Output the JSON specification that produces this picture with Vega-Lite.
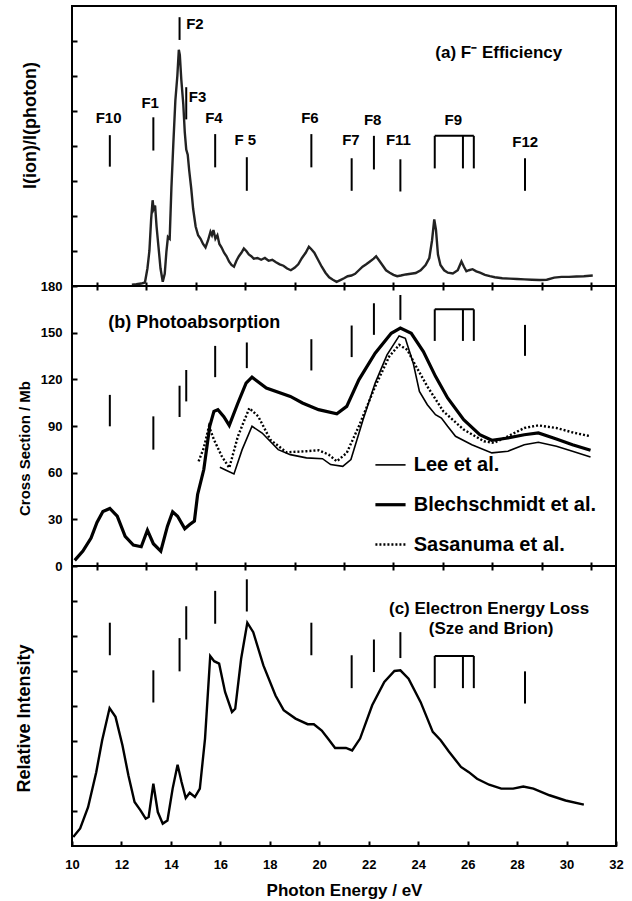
{
  "$schema": "https://vega.github.io/schema/vega-lite/v6.json",
  "padding": {"left": 14, "top": 5, "right": 0, "bottom": 0},
  "spacing": 0,
  "bounds": "flush",
  "config": {
    "font": "Liberation Sans",
    "view": {"stroke": "#000", "strokeWidth": 2},
    "axis": {
      "domain": false,
      "grid": false,
      "ticks": true,
      "tickWidth": 2,
      "tickColor": "#000",
      "labelFont": "Liberation Sans",
      "labelFontWeight": "bold",
      "labelFontSize": 13,
      "labelColor": "#000",
      "labelFlush": false,
      "labelOverlap": false,
      "titleFont": "Liberation Sans",
      "titleFontWeight": "bold",
      "titleFontSize": 17,
      "titleColor": "#000"
    },
    "text": {"font": "Liberation Sans", "fontWeight": "bold", "color": "#000"}
  },
  "datasets": {
    "ionYield": [
      {"E": 12.42, "v": 0.04}, {"E": 12.6, "v": 0.05}, {"E": 12.8, "v": 0.07}, {"E": 12.95, "v": 0.1},
      {"E": 13.05, "v": 0.5}, {"E": 13.13, "v": 1.0}, {"E": 13.2, "v": 1.9}, {"E": 13.26, "v": 2.45},
      {"E": 13.3, "v": 2.2}, {"E": 13.36, "v": 2.3}, {"E": 13.42, "v": 1.7}, {"E": 13.5, "v": 1.1},
      {"E": 13.58, "v": 0.5}, {"E": 13.67, "v": 0.12}, {"E": 13.75, "v": 0.35}, {"E": 13.82, "v": 1.0},
      {"E": 13.88, "v": 1.4}, {"E": 13.95, "v": 1.35}, {"E": 14.02, "v": 2.8}, {"E": 14.1, "v": 4.1},
      {"E": 14.18, "v": 5.3}, {"E": 14.26, "v": 6.0}, {"E": 14.32, "v": 6.75}, {"E": 14.36, "v": 6.6},
      {"E": 14.42, "v": 5.9}, {"E": 14.5, "v": 5.2}, {"E": 14.56, "v": 4.4}, {"E": 14.62, "v": 3.9},
      {"E": 14.68, "v": 3.75}, {"E": 14.74, "v": 3.3}, {"E": 14.82, "v": 2.8}, {"E": 14.9, "v": 2.2},
      {"E": 15.0, "v": 1.7}, {"E": 15.1, "v": 1.45}, {"E": 15.2, "v": 1.35}, {"E": 15.3, "v": 1.2},
      {"E": 15.4, "v": 1.1}, {"E": 15.5, "v": 1.3}, {"E": 15.6, "v": 1.55}, {"E": 15.66, "v": 1.45},
      {"E": 15.72, "v": 1.6}, {"E": 15.8, "v": 1.35}, {"E": 15.88, "v": 1.45}, {"E": 15.96, "v": 1.2},
      {"E": 16.05, "v": 1.1}, {"E": 16.15, "v": 0.95}, {"E": 16.25, "v": 0.85}, {"E": 16.35, "v": 0.7},
      {"E": 16.45, "v": 0.6}, {"E": 16.55, "v": 0.55}, {"E": 16.65, "v": 0.72}, {"E": 16.75, "v": 0.85},
      {"E": 16.85, "v": 0.95}, {"E": 16.95, "v": 1.07}, {"E": 17.05, "v": 1.0}, {"E": 17.15, "v": 0.9},
      {"E": 17.25, "v": 0.85}, {"E": 17.35, "v": 0.78}, {"E": 17.5, "v": 0.8}, {"E": 17.65, "v": 0.75},
      {"E": 17.8, "v": 0.8}, {"E": 17.95, "v": 0.72}, {"E": 18.1, "v": 0.75}, {"E": 18.25, "v": 0.68},
      {"E": 18.4, "v": 0.62}, {"E": 18.55, "v": 0.58}, {"E": 18.7, "v": 0.5}, {"E": 18.85, "v": 0.45},
      {"E": 19.0, "v": 0.52}, {"E": 19.15, "v": 0.62}, {"E": 19.3, "v": 0.8}, {"E": 19.45, "v": 0.95},
      {"E": 19.58, "v": 1.12}, {"E": 19.68, "v": 1.05}, {"E": 19.8, "v": 0.95}, {"E": 19.95, "v": 0.75},
      {"E": 20.1, "v": 0.55}, {"E": 20.25, "v": 0.38}, {"E": 20.4, "v": 0.25}, {"E": 20.55, "v": 0.18},
      {"E": 20.7, "v": 0.12}, {"E": 20.85, "v": 0.17}, {"E": 21.0, "v": 0.22}, {"E": 21.15, "v": 0.28},
      {"E": 21.3, "v": 0.3}, {"E": 21.45, "v": 0.35}, {"E": 21.6, "v": 0.45}, {"E": 21.75, "v": 0.55},
      {"E": 21.9, "v": 0.62}, {"E": 22.05, "v": 0.7}, {"E": 22.2, "v": 0.78}, {"E": 22.3, "v": 0.85},
      {"E": 22.4, "v": 0.75}, {"E": 22.55, "v": 0.6}, {"E": 22.7, "v": 0.45}, {"E": 22.85, "v": 0.38},
      {"E": 23.0, "v": 0.32}, {"E": 23.15, "v": 0.28}, {"E": 23.3, "v": 0.3}, {"E": 23.5, "v": 0.33},
      {"E": 23.7, "v": 0.35}, {"E": 23.9, "v": 0.37}, {"E": 24.1, "v": 0.45}, {"E": 24.3, "v": 0.6},
      {"E": 24.45, "v": 0.8}, {"E": 24.56, "v": 1.3}, {"E": 24.65, "v": 1.9}, {"E": 24.72, "v": 1.6},
      {"E": 24.8, "v": 0.9}, {"E": 24.9, "v": 0.6}, {"E": 25.05, "v": 0.45}, {"E": 25.2, "v": 0.38},
      {"E": 25.4, "v": 0.36}, {"E": 25.6, "v": 0.45}, {"E": 25.75, "v": 0.7}, {"E": 25.85, "v": 0.55},
      {"E": 25.95, "v": 0.42}, {"E": 26.05, "v": 0.45}, {"E": 26.2, "v": 0.48}, {"E": 26.35, "v": 0.42},
      {"E": 26.5, "v": 0.38}, {"E": 26.7, "v": 0.32}, {"E": 26.9, "v": 0.28}, {"E": 27.1, "v": 0.25},
      {"E": 27.4, "v": 0.22}, {"E": 27.7, "v": 0.21}, {"E": 28.0, "v": 0.2}, {"E": 28.3, "v": 0.19},
      {"E": 28.6, "v": 0.18}, {"E": 28.9, "v": 0.17}, {"E": 29.2, "v": 0.18}, {"E": 29.5, "v": 0.24},
      {"E": 29.8, "v": 0.26}, {"E": 30.1, "v": 0.26}, {"E": 30.4, "v": 0.27}, {"E": 30.7, "v": 0.28},
      {"E": 31.06, "v": 0.3}
    ],
    "absorption": [
      {"source": "Blechschmidt et al.", "E": 10.11, "cs": 3.6},
      {"source": "Blechschmidt et al.", "E": 10.44, "cs": 9.6},
      {"source": "Blechschmidt et al.", "E": 10.77, "cs": 18},
      {"source": "Blechschmidt et al.", "E": 11.01, "cs": 28},
      {"source": "Blechschmidt et al.", "E": 11.25, "cs": 35},
      {"source": "Blechschmidt et al.", "E": 11.53, "cs": 37},
      {"source": "Blechschmidt et al.", "E": 11.83, "cs": 32},
      {"source": "Blechschmidt et al.", "E": 12.15, "cs": 19},
      {"source": "Blechschmidt et al.", "E": 12.48, "cs": 13.5},
      {"source": "Blechschmidt et al.", "E": 12.8, "cs": 12.4},
      {"source": "Blechschmidt et al.", "E": 13.05, "cs": 23},
      {"source": "Blechschmidt et al.", "E": 13.29, "cs": 14.3},
      {"source": "Blechschmidt et al.", "E": 13.59, "cs": 9.6},
      {"source": "Blechschmidt et al.", "E": 13.86, "cs": 25.6},
      {"source": "Blechschmidt et al.", "E": 14.07, "cs": 34.8},
      {"source": "Blechschmidt et al.", "E": 14.27, "cs": 32},
      {"source": "Blechschmidt et al.", "E": 14.56, "cs": 24},
      {"source": "Blechschmidt et al.", "E": 14.76, "cs": 26.7},
      {"source": "Blechschmidt et al.", "E": 14.95, "cs": 28.9},
      {"source": "Blechschmidt et al.", "E": 15.08, "cs": 46},
      {"source": "Blechschmidt et al.", "E": 15.33, "cs": 62},
      {"source": "Blechschmidt et al.", "E": 15.57, "cs": 89.8},
      {"source": "Blechschmidt et al.", "E": 15.74, "cs": 99.4},
      {"source": "Blechschmidt et al.", "E": 15.9, "cs": 100.5},
      {"source": "Blechschmidt et al.", "E": 16.14, "cs": 96},
      {"source": "Blechschmidt et al.", "E": 16.36, "cs": 90.4},
      {"source": "Blechschmidt et al.", "E": 16.71, "cs": 104.8},
      {"source": "Blechschmidt et al.", "E": 17.04, "cs": 117.6},
      {"source": "Blechschmidt et al.", "E": 17.28, "cs": 121.4},
      {"source": "Blechschmidt et al.", "E": 17.86, "cs": 114.4},
      {"source": "Blechschmidt et al.", "E": 18.83, "cs": 109},
      {"source": "Blechschmidt et al.", "E": 19.32, "cs": 104.8},
      {"source": "Blechschmidt et al.", "E": 19.97, "cs": 100.5},
      {"source": "Blechschmidt et al.", "E": 20.71, "cs": 97.9},
      {"source": "Blechschmidt et al.", "E": 21.11, "cs": 102.6},
      {"source": "Blechschmidt et al.", "E": 21.6, "cs": 119.7},
      {"source": "Blechschmidt et al.", "E": 22.26, "cs": 136.8},
      {"source": "Blechschmidt et al.", "E": 22.91, "cs": 149.6},
      {"source": "Blechschmidt et al.", "E": 23.28, "cs": 152.9},
      {"source": "Blechschmidt et al.", "E": 23.72, "cs": 149.6},
      {"source": "Blechschmidt et al.", "E": 24.21, "cs": 137.9},
      {"source": "Blechschmidt et al.", "E": 24.7, "cs": 121.9},
      {"source": "Blechschmidt et al.", "E": 25.19, "cs": 108},
      {"source": "Blechschmidt et al.", "E": 25.84, "cs": 94},
      {"source": "Blechschmidt et al.", "E": 26.49, "cs": 84.4},
      {"source": "Blechschmidt et al.", "E": 26.98, "cs": 80.8},
      {"source": "Blechschmidt et al.", "E": 27.63, "cs": 82.3},
      {"source": "Blechschmidt et al.", "E": 28.29, "cs": 84.4},
      {"source": "Blechschmidt et al.", "E": 28.86, "cs": 85.5},
      {"source": "Blechschmidt et al.", "E": 29.59, "cs": 81.7},
      {"source": "Blechschmidt et al.", "E": 30.24, "cs": 78},
      {"source": "Blechschmidt et al.", "E": 30.97, "cs": 74.4},
      {"source": "Lee et al.", "E": 15.98, "cs": 63.5},
      {"source": "Lee et al.", "E": 16.23, "cs": 61.6},
      {"source": "Lee et al.", "E": 16.55, "cs": 59.2},
      {"source": "Lee et al.", "E": 16.88, "cs": 74.8},
      {"source": "Lee et al.", "E": 17.28, "cs": 89.8},
      {"source": "Lee et al.", "E": 17.69, "cs": 85.5},
      {"source": "Lee et al.", "E": 18.34, "cs": 74.8},
      {"source": "Lee et al.", "E": 18.83, "cs": 71.6},
      {"source": "Lee et al.", "E": 19.48, "cs": 69.5},
      {"source": "Lee et al.", "E": 20.13, "cs": 69},
      {"source": "Lee et al.", "E": 20.46, "cs": 65.2},
      {"source": "Lee et al.", "E": 20.95, "cs": 64.1},
      {"source": "Lee et al.", "E": 21.28, "cs": 68.4},
      {"source": "Lee et al.", "E": 21.77, "cs": 94},
      {"source": "Lee et al.", "E": 22.26, "cs": 117.6},
      {"source": "Lee et al.", "E": 22.74, "cs": 135.7},
      {"source": "Lee et al.", "E": 23.23, "cs": 147.9},
      {"source": "Lee et al.", "E": 23.48, "cs": 146.4},
      {"source": "Lee et al.", "E": 23.8, "cs": 130.4},
      {"source": "Lee et al.", "E": 24.05, "cs": 112.2},
      {"source": "Lee et al.", "E": 24.37, "cs": 103.7},
      {"source": "Lee et al.", "E": 24.7, "cs": 97.3},
      {"source": "Lee et al.", "E": 24.94, "cs": 95.1},
      {"source": "Lee et al.", "E": 25.19, "cs": 89.8},
      {"source": "Lee et al.", "E": 25.51, "cs": 83.4},
      {"source": "Lee et al.", "E": 26.17, "cs": 78},
      {"source": "Lee et al.", "E": 26.98, "cs": 72.7},
      {"source": "Lee et al.", "E": 27.63, "cs": 73.8},
      {"source": "Lee et al.", "E": 28.29, "cs": 78},
      {"source": "Lee et al.", "E": 28.86, "cs": 79.5},
      {"source": "Lee et al.", "E": 29.59, "cs": 77},
      {"source": "Lee et al.", "E": 30.24, "cs": 73.8},
      {"source": "Lee et al.", "E": 30.97, "cs": 70.1},
      {"source": "Sasanuma et al.", "E": 15.12, "cs": 67.3},
      {"source": "Sasanuma et al.", "E": 15.33, "cs": 75.9},
      {"source": "Sasanuma et al.", "E": 15.54, "cs": 89.8},
      {"source": "Sasanuma et al.", "E": 15.74, "cs": 81.2},
      {"source": "Sasanuma et al.", "E": 16.06, "cs": 70.5},
      {"source": "Sasanuma et al.", "E": 16.36, "cs": 63.1},
      {"source": "Sasanuma et al.", "E": 16.71, "cs": 83.4},
      {"source": "Sasanuma et al.", "E": 17.17, "cs": 101.5},
      {"source": "Sasanuma et al.", "E": 17.53, "cs": 96.2},
      {"source": "Sasanuma et al.", "E": 18.02, "cs": 81.2},
      {"source": "Sasanuma et al.", "E": 18.67, "cs": 73.1},
      {"source": "Sasanuma et al.", "E": 19.48, "cs": 73.8},
      {"source": "Sasanuma et al.", "E": 19.97, "cs": 74.4},
      {"source": "Sasanuma et al.", "E": 20.38, "cs": 71.6},
      {"source": "Sasanuma et al.", "E": 20.71, "cs": 67.3},
      {"source": "Sasanuma et al.", "E": 21.11, "cs": 72.7},
      {"source": "Sasanuma et al.", "E": 21.6, "cs": 89.8},
      {"source": "Sasanuma et al.", "E": 22.26, "cs": 115.4},
      {"source": "Sasanuma et al.", "E": 22.83, "cs": 134.7},
      {"source": "Sasanuma et al.", "E": 23.23, "cs": 142.2},
      {"source": "Sasanuma et al.", "E": 23.56, "cs": 139},
      {"source": "Sasanuma et al.", "E": 23.88, "cs": 129.3},
      {"source": "Sasanuma et al.", "E": 24.37, "cs": 115.4},
      {"source": "Sasanuma et al.", "E": 25.02, "cs": 99.4},
      {"source": "Sasanuma et al.", "E": 25.84, "cs": 87.7},
      {"source": "Sasanuma et al.", "E": 26.66, "cs": 80.2},
      {"source": "Sasanuma et al.", "E": 27.06, "cs": 79.1},
      {"source": "Sasanuma et al.", "E": 27.63, "cs": 83.4},
      {"source": "Sasanuma et al.", "E": 28.29, "cs": 88.7},
      {"source": "Sasanuma et al.", "E": 28.86, "cs": 90.4},
      {"source": "Sasanuma et al.", "E": 29.59, "cs": 88.7},
      {"source": "Sasanuma et al.", "E": 30.24, "cs": 85.9},
      {"source": "Sasanuma et al.", "E": 30.97, "cs": 83.4}
    ],
    "eels": [
      {"E": 10.05, "v": 0.26}, {"E": 10.33, "v": 0.5}, {"E": 10.65, "v": 1.11}, {"E": 10.98, "v": 2.11},
      {"E": 11.22, "v": 3.02}, {"E": 11.52, "v": 3.94}, {"E": 11.76, "v": 3.69}, {"E": 12.04, "v": 2.88},
      {"E": 12.28, "v": 2.02}, {"E": 12.53, "v": 1.26}, {"E": 12.77, "v": 1.02}, {"E": 12.98, "v": 0.78},
      {"E": 13.1, "v": 0.83}, {"E": 13.29, "v": 1.78}, {"E": 13.47, "v": 0.97}, {"E": 13.67, "v": 0.64},
      {"E": 13.86, "v": 0.73}, {"E": 14.07, "v": 1.64}, {"E": 14.27, "v": 2.32}, {"E": 14.43, "v": 1.83},
      {"E": 14.6, "v": 1.37}, {"E": 14.76, "v": 1.52}, {"E": 14.97, "v": 1.4}, {"E": 15.17, "v": 1.64},
      {"E": 15.38, "v": 3.07}, {"E": 15.59, "v": 5.43}, {"E": 15.75, "v": 5.28}, {"E": 15.95, "v": 5.21},
      {"E": 16.19, "v": 4.4}, {"E": 16.47, "v": 3.83}, {"E": 16.6, "v": 3.92}, {"E": 16.84, "v": 5.35},
      {"E": 17.09, "v": 6.38}, {"E": 17.33, "v": 6.11}, {"E": 17.74, "v": 5.16}, {"E": 18.23, "v": 4.3},
      {"E": 18.56, "v": 3.88}, {"E": 19.04, "v": 3.64}, {"E": 19.53, "v": 3.48}, {"E": 19.78, "v": 3.48},
      {"E": 20.1, "v": 3.3}, {"E": 20.35, "v": 3.07}, {"E": 20.64, "v": 2.8}, {"E": 21.08, "v": 2.8},
      {"E": 21.33, "v": 2.73}, {"E": 21.65, "v": 3.07}, {"E": 22.14, "v": 4.02}, {"E": 22.63, "v": 4.69},
      {"E": 23.04, "v": 5.0}, {"E": 23.28, "v": 5.02}, {"E": 23.61, "v": 4.78}, {"E": 24.1, "v": 4.11},
      {"E": 24.59, "v": 3.26}, {"E": 24.91, "v": 3.02}, {"E": 25.24, "v": 2.7}, {"E": 25.73, "v": 2.26},
      {"E": 26.05, "v": 2.11}, {"E": 26.38, "v": 1.92}, {"E": 26.87, "v": 1.75}, {"E": 27.36, "v": 1.64},
      {"E": 27.84, "v": 1.64}, {"E": 28.25, "v": 1.7}, {"E": 28.66, "v": 1.64}, {"E": 29.31, "v": 1.45},
      {"E": 29.96, "v": 1.3}, {"E": 30.7, "v": 1.18}
    ],
    "markersA": [
      {"E": 11.53, "lo": 3.41, "hi": 4.31}, {"E": 13.29, "lo": 3.87, "hi": 4.82},
      {"E": 14.35, "lo": 7.03, "hi": 7.68}, {"E": 14.62, "lo": 4.76, "hi": 5.68},
      {"E": 15.79, "lo": 3.39, "hi": 4.34}, {"E": 17.07, "lo": 2.72, "hi": 3.68},
      {"E": 19.68, "lo": 3.39, "hi": 4.34}, {"E": 21.31, "lo": 2.72, "hi": 3.65},
      {"E": 22.21, "lo": 3.33, "hi": 4.29}, {"E": 23.28, "lo": 2.7, "hi": 3.62},
      {"E": 24.67, "lo": 3.36, "hi": 4.29}, {"E": 25.81, "lo": 3.36, "hi": 4.29},
      {"E": 26.25, "lo": 3.36, "hi": 4.29}, {"E": 28.32, "lo": 2.72, "hi": 3.65}
    ],
    "markersB": [
      {"E": 11.53, "lo": 89.8, "hi": 110}, {"E": 13.29, "lo": 74.8, "hi": 96.2},
      {"E": 14.35, "lo": 95.8, "hi": 115.9}, {"E": 14.62, "lo": 105.8, "hi": 126},
      {"E": 15.79, "lo": 121.4, "hi": 141.5}, {"E": 17.07, "lo": 127.2, "hi": 143.7},
      {"E": 19.68, "lo": 125.7, "hi": 145.8}, {"E": 21.31, "lo": 134.3, "hi": 154.6},
      {"E": 22.21, "lo": 148.6, "hi": 168.9}, {"E": 23.28, "lo": 158.2, "hi": 174.2},
      {"E": 24.67, "lo": 144.7, "hi": 165}, {"E": 25.81, "lo": 144.7, "hi": 165},
      {"E": 26.25, "lo": 144.7, "hi": 165}, {"E": 28.32, "lo": 135.1, "hi": 155}
    ],
    "markersC": [
      {"E": 11.53, "lo": 5.45, "hi": 6.38}, {"E": 13.29, "lo": 4.1, "hi": 5.02},
      {"E": 14.35, "lo": 4.99, "hi": 5.94}, {"E": 14.62, "lo": 5.9, "hi": 6.85},
      {"E": 15.79, "lo": 6.35, "hi": 7.29}, {"E": 17.07, "lo": 6.7, "hi": 7.62},
      {"E": 19.68, "lo": 5.45, "hi": 6.38}, {"E": 21.31, "lo": 4.51, "hi": 5.45},
      {"E": 22.21, "lo": 4.97, "hi": 5.9}, {"E": 23.28, "lo": 5.37, "hi": 6.11},
      {"E": 24.67, "lo": 4.51, "hi": 5.43}, {"E": 25.81, "lo": 4.51, "hi": 5.43},
      {"E": 26.25, "lo": 4.51, "hi": 5.43}, {"E": 28.32, "lo": 4.07, "hi": 4.99}
    ],
    "bracketA": [{"E": 24.67, "E2": 26.25, "v": 4.29}],
    "bracketB": [{"E": 24.67, "E2": 26.25, "v": 165}],
    "bracketC": [{"E": 24.67, "E2": 26.25, "v": 5.43}],
    "bandNames": [
      {"label": "F10", "E": 11.48, "v": 4.79}, {"label": "F1", "E": 13.16, "v": 5.22},
      {"label": "F2", "E": 14.97, "v": 7.49}, {"label": "F3", "E": 15.08, "v": 5.41},
      {"label": "F4", "E": 15.74, "v": 4.79}, {"label": "F 5", "E": 17.01, "v": 4.17},
      {"label": "F6", "E": 19.62, "v": 4.79}, {"label": "F7", "E": 21.28, "v": 4.17},
      {"label": "F8", "E": 22.16, "v": 4.74}, {"label": "F11", "E": 23.2, "v": 4.17},
      {"label": "F9", "E": 25.42, "v": 4.74}, {"label": "F12", "E": 28.33, "v": 4.12}
    ],
    "legendRows": [
      {"source": "Lee et al.", "E": 22.27, "E2": 23.49, "Etext": 23.82, "cs": 65.0},
      {"source": "Blechschmidt et al.", "E": 22.27, "E2": 23.49, "Etext": 23.82, "cs": 39.4},
      {"source": "Sasanuma et al.", "E": 22.27, "E2": 23.49, "Etext": 23.82, "cs": 13.8}
    ]
  },
  "vconcat": [
    {
      "width": 544,
      "height": 280,
      "layer": [
        {
          "data": {"name": "ionYield"},
          "mark": {"type": "line", "stroke": "#222", "strokeWidth": 2.4},
          "encoding": {
            "x": {"field": "E", "type": "quantitative",
                  "scale": {"domain": [10, 32], "nice": false, "zero": false},
                  "axis": {"orient": "bottom", "offset": -4, "tickSize": 8,
                           "values": [11,12,13,14,15,16,17,18,19,20,21,22,23,24,25,26,27,28,29,30,31],
                           "labels": false, "title": null}},
            "y": {"field": "v", "type": "quantitative",
                  "scale": {"domain": [0, 8], "nice": false},
                  "axis": {"values": [1,2,3,4,5,6,7], "offset": -5, "tickSize": 5, "labels": false,
                           "title": "I(ion)/I(photon)", "titleFontSize": 18,
                           "titleX": -47, "titleY": 119, "titleBaseline": "middle"}}
          }
        },
        {
          "data": {"name": "markersA"},
          "mark": {"type": "rule", "strokeWidth": 2, "color": "#000"},
          "encoding": {
            "x": {"field": "E", "type": "quantitative"},
            "y": {"field": "lo", "type": "quantitative"},
            "y2": {"field": "hi"}
          }
        },
        {
          "data": {"name": "bracketA"},
          "mark": {"type": "rule", "strokeWidth": 2, "color": "#000"},
          "encoding": {
            "x": {"field": "E", "type": "quantitative"},
            "x2": {"field": "E2"},
            "y": {"field": "v", "type": "quantitative"}
          }
        },
        {
          "data": {"name": "bandNames"},
          "mark": {"type": "text", "fontSize": 15, "baseline": "middle", "align": "center"},
          "encoding": {
            "x": {"field": "E", "type": "quantitative"},
            "y": {"field": "v", "type": "quantitative"},
            "text": {"field": "label"}
          }
        },
        {
          "data": {"values": [{"E": 27.26, "v": 6.65, "label": "(a) F⁻ Efficiency"}]},
          "mark": {"type": "text", "fontSize": 17, "baseline": "middle", "align": "center"},
          "encoding": {
            "x": {"field": "E", "type": "quantitative"},
            "y": {"field": "v", "type": "quantitative"},
            "text": {"field": "label"}
          }
        }
      ]
    },
    {
      "width": 544,
      "height": 280,
      "layer": [
        {
          "data": {"name": "absorption"},
          "transform": [{"filter": "datum.source === 'Blechschmidt et al.'"}],
          "mark": {"type": "line", "stroke": "#000", "strokeWidth": 3.2},
          "encoding": {
            "x": {"field": "E", "type": "quantitative",
                  "scale": {"domain": [10, 32], "nice": false, "zero": false},
                  "axis": {"orient": "bottom", "offset": -4, "tickSize": 8,
                           "values": [11,12,13,14,15,16,17,18,19,20,21,22,23,24,25,26,27,28,29,30,31],
                           "labels": false, "title": null}},
            "y": {"field": "cs", "type": "quantitative",
                  "scale": {"domain": [0, 180], "nice": false},
                  "axis": {"values": [0,30,60,90,120,150,180], "offset": -5, "tickSize": 5, "labelPadding": 10,
                           "title": "Cross Section / Mb", "titleFontSize": 15,
                           "titleX": -53, "titleY": 162, "titleBaseline": "middle"}}
          }
        },
        {
          "data": {"name": "absorption"},
          "transform": [{"filter": "datum.source === 'Lee et al.'"}],
          "mark": {"type": "line", "stroke": "#000", "strokeWidth": 1.6},
          "encoding": {
            "x": {"field": "E", "type": "quantitative"},
            "y": {"field": "cs", "type": "quantitative"}
          }
        },
        {
          "data": {"name": "absorption"},
          "transform": [{"filter": "datum.source === 'Sasanuma et al.'"}],
          "mark": {"type": "line", "stroke": "#000", "strokeWidth": 2.4, "strokeDash": [2, 2]},
          "encoding": {
            "x": {"field": "E", "type": "quantitative"},
            "y": {"field": "cs", "type": "quantitative"}
          }
        },
        {
          "data": {"name": "markersB"},
          "mark": {"type": "rule", "strokeWidth": 2, "color": "#000"},
          "encoding": {
            "x": {"field": "E", "type": "quantitative"},
            "y": {"field": "lo", "type": "quantitative"},
            "y2": {"field": "hi"}
          }
        },
        {
          "data": {"name": "bracketB"},
          "mark": {"type": "rule", "strokeWidth": 2, "color": "#000"},
          "encoding": {
            "x": {"field": "E", "type": "quantitative"},
            "x2": {"field": "E2"},
            "y": {"field": "v", "type": "quantitative"}
          }
        },
        {
          "data": {"values": [{"E": 11.47, "cs": 156, "label": "(b) Photoabsorption"}]},
          "mark": {"type": "text", "fontSize": 18, "baseline": "middle", "align": "left"},
          "encoding": {
            "x": {"field": "E", "type": "quantitative"},
            "y": {"field": "cs", "type": "quantitative"},
            "text": {"field": "label"}
          }
        },
        {
          "data": {"name": "legendRows"},
          "transform": [{"filter": "datum.source === 'Lee et al.'"}],
          "mark": {"type": "rule", "strokeWidth": 1.6, "color": "#000"},
          "encoding": {
            "x": {"field": "E", "type": "quantitative"},
            "x2": {"field": "E2"},
            "y": {"field": "cs", "type": "quantitative"}
          }
        },
        {
          "data": {"name": "legendRows"},
          "transform": [{"filter": "datum.source === 'Blechschmidt et al.'"}],
          "mark": {"type": "rule", "strokeWidth": 3.2, "color": "#000"},
          "encoding": {
            "x": {"field": "E", "type": "quantitative"},
            "x2": {"field": "E2"},
            "y": {"field": "cs", "type": "quantitative"}
          }
        },
        {
          "data": {"name": "legendRows"},
          "transform": [{"filter": "datum.source === 'Sasanuma et al.'"}],
          "mark": {"type": "rule", "strokeWidth": 2.4, "strokeDash": [2, 2], "color": "#000"},
          "encoding": {
            "x": {"field": "E", "type": "quantitative"},
            "x2": {"field": "E2"},
            "y": {"field": "cs", "type": "quantitative"}
          }
        },
        {
          "data": {"name": "legendRows"},
          "mark": {"type": "text", "fontSize": 20, "baseline": "middle", "align": "left"},
          "encoding": {
            "x": {"field": "Etext", "type": "quantitative"},
            "y": {"field": "cs", "type": "quantitative"},
            "text": {"field": "source"}
          }
        }
      ]
    },
    {
      "width": 544,
      "height": 280,
      "layer": [
        {
          "data": {"name": "eels"},
          "mark": {"type": "line", "stroke": "#000", "strokeWidth": 2.4},
          "encoding": {
            "x": {"field": "E", "type": "quantitative",
                  "scale": {"domain": [10, 32], "nice": false, "zero": false},
                  "axis": {"orient": "bottom", "offset": -5, "tickSize": 5,
                           "values": [10,11,12,13,14,15,16,17,18,19,20,21,22,23,24,25,26,27,28,29,30,31,32],
                           "labelExpr": "datum.value % 2 === 0 ? datum.label : ''", "labelPadding": 12,
                           "title": "Photon Energy / eV", "titlePadding": 11}},
            "y": {"field": "v", "type": "quantitative",
                  "scale": {"domain": [0, 8], "nice": false},
                  "axis": {"values": [1,2,3,4,5,6,7], "offset": -5, "tickSize": 5, "labels": false,
                           "title": "Relative Intensity", "titleFontSize": 18,
                           "titleX": -53, "titleY": 152, "titleBaseline": "middle"}}
          }
        },
        {
          "data": {"name": "markersC"},
          "mark": {"type": "rule", "strokeWidth": 2, "color": "#000"},
          "encoding": {
            "x": {"field": "E", "type": "quantitative"},
            "y": {"field": "lo", "type": "quantitative"},
            "y2": {"field": "hi"}
          }
        },
        {
          "data": {"name": "bracketC"},
          "mark": {"type": "rule", "strokeWidth": 2, "color": "#000"},
          "encoding": {
            "x": {"field": "E", "type": "quantitative"},
            "x2": {"field": "E2"},
            "y": {"field": "v", "type": "quantitative"}
          }
        },
        {
          "data": {"values": [
            {"E": 26.87, "v": 6.76, "label": "(c) Electron Energy Loss"},
            {"E": 26.95, "v": 6.19, "label": "(Sze and Brion)"}
          ]},
          "mark": {"type": "text", "fontSize": 17, "baseline": "middle", "align": "center"},
          "encoding": {
            "x": {"field": "E", "type": "quantitative"},
            "y": {"field": "v", "type": "quantitative"},
            "text": {"field": "label"}
          }
        }
      ]
    }
  ]
}
